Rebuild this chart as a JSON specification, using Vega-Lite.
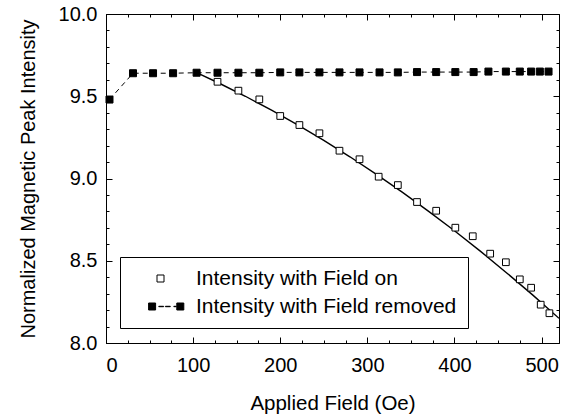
{
  "$schema": "https://vega.github.io/schema/vega-lite/v6.json",
  "width": 453,
  "height": 329,
  "autosize": {"type": "none"},
  "padding": {"left": 106, "top": 14, "right": 6, "bottom": 76},
  "background": "white",
  "config": {
    "view": {"stroke": "black", "strokeWidth": 1, "fill": "white"},
    "font": "Liberation Sans",
    "axis": {
      "domain": false,
      "grid": false,
      "tickColor": "black",
      "tickWidth": 1,
      "labelColor": "black",
      "labelFont": "Liberation Sans",
      "labelFontSize": 20,
      "titleFont": "Liberation Sans",
      "titleFontSize": 20.5,
      "titleFontWeight": "normal",
      "titleColor": "black"
    },
    "legend": {
      "title": null, "orient": "none", "legendX": 14, "legendY": 243, "direction": "vertical",
      "padding": 11, "strokeColor": "black", "fillColor": "white", "cornerRadius": 0,
      "labelFont": "Liberation Sans", "labelFontSize": 21, "labelColor": "black", "labelLimit": 400,
      "symbolSize": 49, "symbolStrokeColor": "black", "symbolStrokeWidth": 1, "symbolOpacity": 1,
      "symbolOffset": 19, "labelOffset": 25, "rowPadding": 6
    }
  },
  "datasets": {
    "fit": [
      {"field": 104, "intensity": 9.643},
      {"field": 130, "intensity": 9.579},
      {"field": 160, "intensity": 9.500},
      {"field": 190, "intensity": 9.415},
      {"field": 220, "intensity": 9.326},
      {"field": 250, "intensity": 9.232},
      {"field": 280, "intensity": 9.132},
      {"field": 310, "intensity": 9.027},
      {"field": 340, "intensity": 8.917},
      {"field": 370, "intensity": 8.802},
      {"field": 400, "intensity": 8.682},
      {"field": 430, "intensity": 8.557},
      {"field": 460, "intensity": 8.426},
      {"field": 490, "intensity": 8.291},
      {"field": 520, "intensity": 8.150}
    ],
    "removed": [
      {"field": 4, "intensity": 9.48, "series": "Intensity with Field removed"},
      {"field": 31, "intensity": 9.64, "series": "Intensity with Field removed"},
      {"field": 54, "intensity": 9.64, "series": "Intensity with Field removed"},
      {"field": 77, "intensity": 9.64, "series": "Intensity with Field removed"},
      {"field": 104, "intensity": 9.643, "series": "Intensity with Field removed"},
      {"field": 128, "intensity": 9.643, "series": "Intensity with Field removed"},
      {"field": 152, "intensity": 9.643, "series": "Intensity with Field removed"},
      {"field": 176, "intensity": 9.643, "series": "Intensity with Field removed"},
      {"field": 200, "intensity": 9.645, "series": "Intensity with Field removed"},
      {"field": 222, "intensity": 9.645, "series": "Intensity with Field removed"},
      {"field": 245, "intensity": 9.645, "series": "Intensity with Field removed"},
      {"field": 268, "intensity": 9.645, "series": "Intensity with Field removed"},
      {"field": 291, "intensity": 9.645, "series": "Intensity with Field removed"},
      {"field": 314, "intensity": 9.645, "series": "Intensity with Field removed"},
      {"field": 335, "intensity": 9.645, "series": "Intensity with Field removed"},
      {"field": 357, "intensity": 9.647, "series": "Intensity with Field removed"},
      {"field": 379, "intensity": 9.647, "series": "Intensity with Field removed"},
      {"field": 401, "intensity": 9.647, "series": "Intensity with Field removed"},
      {"field": 422, "intensity": 9.647, "series": "Intensity with Field removed"},
      {"field": 439, "intensity": 9.65, "series": "Intensity with Field removed"},
      {"field": 459, "intensity": 9.65, "series": "Intensity with Field removed"},
      {"field": 475, "intensity": 9.65, "series": "Intensity with Field removed"},
      {"field": 488, "intensity": 9.65, "series": "Intensity with Field removed"},
      {"field": 498, "intensity": 9.65, "series": "Intensity with Field removed"},
      {"field": 508, "intensity": 9.65, "series": "Intensity with Field removed"}
    ],
    "on": [
      {"field": 128, "intensity": 9.588, "series": "Intensity with Field on"},
      {"field": 152, "intensity": 9.534, "series": "Intensity with Field on"},
      {"field": 176, "intensity": 9.481, "series": "Intensity with Field on"},
      {"field": 200, "intensity": 9.380, "series": "Intensity with Field on"},
      {"field": 222, "intensity": 9.325, "series": "Intensity with Field on"},
      {"field": 245, "intensity": 9.275, "series": "Intensity with Field on"},
      {"field": 268, "intensity": 9.169, "series": "Intensity with Field on"},
      {"field": 291, "intensity": 9.117, "series": "Intensity with Field on"},
      {"field": 313, "intensity": 9.011, "series": "Intensity with Field on"},
      {"field": 335, "intensity": 8.960, "series": "Intensity with Field on"},
      {"field": 357, "intensity": 8.857, "series": "Intensity with Field on"},
      {"field": 379, "intensity": 8.804, "series": "Intensity with Field on"},
      {"field": 401, "intensity": 8.701, "series": "Intensity with Field on"},
      {"field": 421, "intensity": 8.649, "series": "Intensity with Field on"},
      {"field": 441, "intensity": 8.543, "series": "Intensity with Field on"},
      {"field": 459, "intensity": 8.491, "series": "Intensity with Field on"},
      {"field": 475, "intensity": 8.387, "series": "Intensity with Field on"},
      {"field": 488, "intensity": 8.336, "series": "Intensity with Field on"},
      {"field": 499, "intensity": 8.233, "series": "Intensity with Field on"},
      {"field": 509, "intensity": 8.181, "series": "Intensity with Field on"}
    ]
  },
  "resolve": {"axis": {"x": "independent", "y": "independent"}},
  "layer": [
    {
      "data": {"name": "fit"},
      "mark": {"type": "line", "color": "black", "strokeWidth": 1.4, "clip": true},
      "encoding": {
        "x": {
          "field": "field", "type": "quantitative",
          "scale": {"domain": [0, 520], "nice": false, "zero": false},
          "axis": {
            "orient": "bottom", "title": "Applied Field (Oe)",
            "values": [0, 100, 200, 300, 400, 500], "format": "d",
            "tickSize": -6, "labelPadding": 18, "titlePadding": 18
          }
        },
        "y": {
          "field": "intensity", "type": "quantitative",
          "scale": {"domain": [8, 10], "nice": false, "zero": false},
          "axis": {
            "orient": "left", "title": "Normalized Magnetic Peak Intensity",
            "titleFontSize": 20,
            "values": [8, 8.5, 9, 9.5, 10], "format": ".1f",
            "tickSize": -6, "labelPadding": 15, "titlePadding": 20
          }
        }
      }
    },
    {
      "data": {"name": "removed"},
      "mark": {"type": "line", "color": "black", "strokeWidth": 1, "strokeDash": [5, 4]},
      "encoding": {
        "x": {
          "field": "field", "type": "quantitative",
          "axis": {
            "orient": "bottom", "title": null, "labels": false,
            "values": [0, 25, 50, 75, 100, 125, 150, 175, 200, 225, 250, 275, 300, 325, 350, 375, 400, 425, 450, 475, 500],
            "tickSize": -3
          }
        },
        "y": {
          "field": "intensity", "type": "quantitative",
          "axis": {
            "orient": "left", "title": null, "labels": false,
            "values": [8, 8.1, 8.2, 8.3, 8.4, 8.5, 8.6, 8.7, 8.8, 8.9, 9, 9.1, 9.2, 9.3, 9.4, 9.5, 9.6, 9.7, 9.8, 9.9, 10],
            "tickSize": -3
          }
        }
      }
    },
    {
      "data": {"name": "on"},
      "mark": {"type": "point", "shape": "square", "size": 45, "filled": true, "fill": "white", "stroke": "black", "strokeWidth": 1, "opacity": 1},
      "encoding": {
        "x": {
          "field": "field", "type": "quantitative",
          "axis": {
            "orient": "top", "title": null, "labels": false,
            "values": [0, 25, 50, 75, 100, 125, 150, 175, 200, 225, 250, 275, 300, 325, 350, 375, 400, 425, 450, 475, 500],
            "tickSize": -3
          }
        },
        "y": {
          "field": "intensity", "type": "quantitative",
          "axis": {
            "orient": "right", "title": null, "labels": false,
            "values": [8, 8.1, 8.2, 8.3, 8.4, 8.5, 8.6, 8.7, 8.8, 8.9, 9, 9.1, 9.2, 9.3, 9.4, 9.5, 9.6, 9.7, 9.8, 9.9, 10],
            "tickSize": -3
          }
        }
      }
    },
    {
      "data": {"name": "removed"},
      "mark": {"type": "point", "shape": "square", "size": 49, "filled": true, "fill": "black", "stroke": "black", "strokeWidth": 1, "opacity": 1},
      "encoding": {
        "x": {
          "field": "field", "type": "quantitative",
          "axis": {
            "orient": "top", "title": null, "labels": false,
            "values": [0, 100, 200, 300, 400, 500],
            "tickSize": -6
          }
        },
        "y": {
          "field": "intensity", "type": "quantitative",
          "axis": {
            "orient": "right", "title": null, "labels": false,
            "values": [8, 8.5, 9, 9.5, 10],
            "tickSize": -6
          }
        }
      }
    },
    {
      "data": {"name": "on"},
      "mark": {"type": "point", "filled": true, "strokeWidth": 1, "opacity": 0, "size": 49},
      "encoding": {
        "x": {"field": "field", "type": "quantitative", "axis": null},
        "y": {"field": "intensity", "type": "quantitative", "axis": null},
        "fill": {
          "field": "series", "type": "nominal",
          "scale": {"domain": ["Intensity with Field on", "Intensity with Field removed"], "range": ["white", "black"]}
        },
        "stroke": {
          "field": "series", "type": "nominal",
          "scale": {"domain": ["Intensity with Field on", "Intensity with Field removed"], "range": ["black", "black"]}
        },
        "shape": {
          "field": "series", "type": "nominal",
          "scale": {
            "domain": ["Intensity with Field on", "Intensity with Field removed"],
            "range": [
              "M-1,-1H1V1H-1Z",
              "M-3.4,-1H-1.4V1H-3.4Z M-0.5,-0.06H0.9V0.06H-0.5Z M1.4,-0.06H2.8V0.06H1.4Z M3.8,-0.06H4.5V0.06H3.8Z M4.66,-1H6.66V1H4.66Z"
            ]
          }
        }
      }
    }
  ]
}
